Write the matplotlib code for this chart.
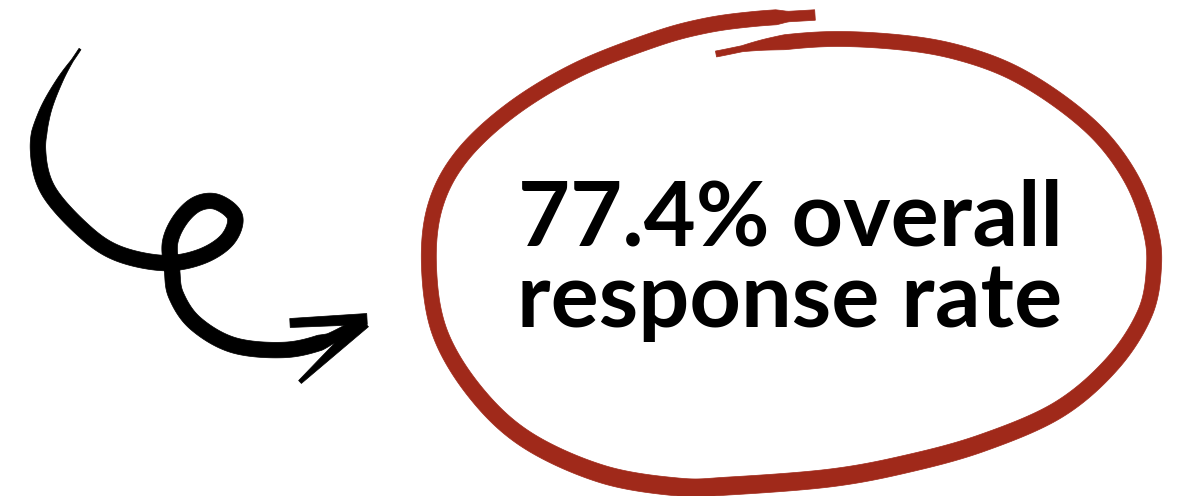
import numpy as np
import matplotlib.pyplot as plt
from matplotlib.patches import Polygon

plt.rcParams['font.family'] = ['Lato', 'DejaVu Sans']

# the figure shown
rate = 77.4
line1 = f'{rate}% overall'
line2 = 'response rate'

ink_red = '#a0291a'
ink_black = '#000000'

# guide points of the hand drawn arrow (pixels, y pointing down)
arrow_x = [80, 60, 44, 38, 48, 83, 117, 163, 200, 227, 235, 217, 197, 180, 170, 172, 176, 195, 233, 283, 322, 356]
arrow_y = [49, 80, 115, 150, 190, 230, 253, 263, 257, 240, 217, 202, 204, 220, 243, 270, 295, 323, 345, 350, 342, 326]
barb_top_x = [290, 367]
barb_top_y = [323, 319]
barb_low_x = [364, 300]
barb_low_y = [322, 382]

# guide points of the red loop round the text
loop_x = [716, 770, 835, 906, 960, 1012, 1062, 1103, 1133, 1150, 1154, 1145, 1112, 1058, 982, 906, 830,
          729, 678, 602, 527, 476, 440, 429, 435, 461, 511, 577, 653, 704, 754, 815]
loop_y = [54, 44, 39, 43, 53, 72, 103, 139, 182, 228, 266, 313, 364, 410, 443, 464, 478,
          486, 487, 474, 440, 393, 333, 267, 207, 157, 110, 70, 40, 26, 19, 15]


def catmull(xs, ys, n=24):
    P = np.column_stack([xs, ys]).astype(float)
    P = np.vstack([2 * P[0] - P[1], P, 2 * P[-1] - P[-2]])
    out = []
    for i in range(1, len(P) - 2):
        p0, p1, p2, p3 = P[i - 1], P[i], P[i + 1], P[i + 2]
        t = np.linspace(0, 1, n, endpoint=False)[:, None]
        out.append(0.5 * (2 * p1 + (-p0 + p2) * t
                          + (2 * p0 - 5 * p1 + 4 * p2 - p3) * t ** 2
                          + (-p0 + 3 * p1 - 3 * p2 + p3) * t ** 3))
    out.append(P[-2][None])
    return np.vstack(out)


def brush(ax, pts, widths, color, z=2):
    d = np.gradient(pts, axis=0)
    d /= np.linalg.norm(d, axis=1)[:, None] + 1e-9
    nrm = np.column_stack([-d[:, 1], d[:, 0]])
    w = np.asarray(widths)[:, None] / 2
    poly = np.vstack([pts + nrm * w, (pts - nrm * w)[::-1]])
    ax.add_patch(Polygon(poly, closed=True, facecolor=color, edgecolor=color,
                         linewidth=0.5, zorder=z))


fig = plt.figure(figsize=(11.88, 4.96), dpi=100)
ax = fig.add_axes([0, 0, 1, 1])
ax.set_xlim(0, 1188)
ax.set_ylim(496, 0)
ax.axis('off')

# arrow body
pts = catmull(arrow_x, arrow_y)
s = np.linspace(0, 1, len(pts))
w = 15.5 * np.clip(s / 0.12, 0.15, 1) * np.clip((1 - s) / 0.05, 0.75, 1)
brush(ax, pts, w, ink_black)
# arrow head
bt = np.column_stack([np.linspace(barb_top_x[0], barb_top_x[1], 30),
                      np.linspace(barb_top_y[0], barb_top_y[1], 30)])
brush(ax, bt, np.linspace(9, 11, 30), ink_black)
bl = np.column_stack([np.linspace(barb_low_x[0], barb_low_x[1], 30),
                      np.linspace(barb_low_y[0], barb_low_y[1], 30)])
brush(ax, bl, np.linspace(13, 4, 30), ink_black)

# red loop, a bit heavier along the bottom
lp = catmull(loop_x, loop_y)
s = np.linspace(0, 1, len(lp))
lw = 15 + 3 * np.clip((lp[:, 1] - 300) / 190, 0, 1)
lw = lw * np.clip(s / 0.04, 0.4, 1) * np.clip((1 - s) / 0.02, 0.7, 1)
brush(ax, lp, lw, ink_red)

ax.text(790, 245, line1, ha='center', va='baseline', fontsize=64.8,
        fontweight='bold', color=ink_black)
ax.text(790, 327, line2, ha='center', va='baseline', fontsize=64.8,
        fontweight='bold', color=ink_black)

fig.savefig('out.png', dpi=100, facecolor='white')
